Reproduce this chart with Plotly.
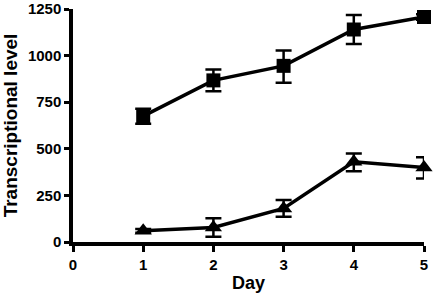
import plotly.graph_objects as go

days = [1, 2, 3, 4, 5]
sq_vals = [675, 867, 945, 1140, 1207]
sq_err_plus = [40, 58, 82, 78, 15]
sq_err_minus = [40, 58, 90, 78, 15]
tri_vals = [60, 78, 180, 430, 400]
tri_err_plus = [10, 50, 45, 45, 55]
tri_err_minus = [10, 50, 45, 50, 60]
x_ticks = [0, 1, 2, 3, 4, 5]
y_ticks = [0, 250, 500, 750, 1000, 1250]

fig = go.Figure()
fig.add_trace(go.Scatter(
    x=days, y=sq_vals, mode="lines+markers", cliponaxis=False,
    line=dict(color="black", width=3.5),
    marker=dict(symbol="square", size=14, color="black"),
    error_y=dict(type="data", array=sq_err_plus, arrayminus=sq_err_minus,
                 color="black", thickness=2.5, width=8),
))
fig.add_trace(go.Scatter(
    x=days, y=tri_vals, mode="lines+markers", cliponaxis=False,
    line=dict(color="black", width=3.5),
    marker=dict(symbol="triangle-up", size=15, color="black"),
    error_y=dict(type="data", array=tri_err_plus, arrayminus=tri_err_minus,
                 color="black", thickness=2.5, width=8),
))

fam = "Liberation Sans, Arial, sans-serif"
fig.update_layout(
    width=433, height=293,
    margin=dict(l=73, r=9, t=9, b=51),
    plot_bgcolor="white", paper_bgcolor="white",
    showlegend=False,
    font=dict(family=fam, color="black", size=15, weight="bold"),
)
fig.update_xaxes(
    range=[0, 5], tickvals=x_ticks, showgrid=False, zeroline=False,
    automargin=False, ticklabeloverflow="allow",
    showline=True, linecolor="black", linewidth=3.5,
    ticks="outside", ticklen=6, tickwidth=3, tickcolor="black",
    tickfont=dict(family=fam, size=15, color="black", weight="bold"),
    title=dict(text="Day", font=dict(family=fam, size=18, color="black", weight="bold"), standoff=8),
)
fig.update_yaxes(
    range=[0, 1250], tickvals=y_ticks, showgrid=False, zeroline=False,
    automargin=False, ticklabeloverflow="allow",
    showline=True, linecolor="black", linewidth=3.5,
    ticks="outside", ticklen=5, tickwidth=3, tickcolor="black",
    tickfont=dict(family=fam, size=15, color="black", weight="bold"),
    title=dict(text="Transcriptional level", font=dict(family=fam, size=19, color="black", weight="bold"), standoff=8),
)
fig.write_html("out.html", config={"displayModeBar": False},
               post_script="document.body.style.margin='0';document.body.style.overflow='hidden';")
